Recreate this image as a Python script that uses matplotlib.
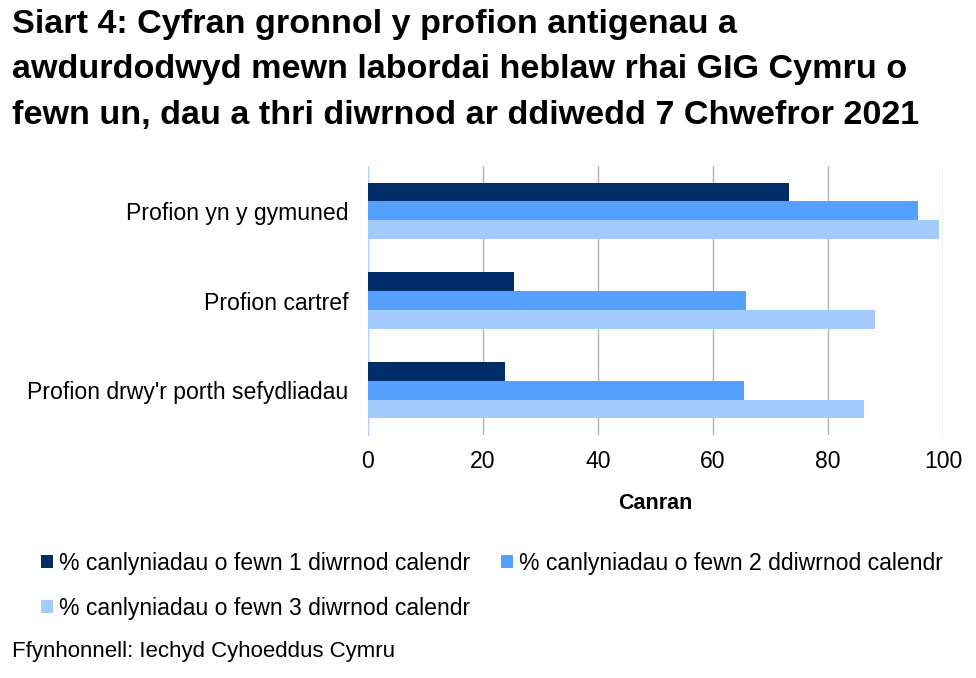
import matplotlib
matplotlib.use("Agg")
import matplotlib.pyplot as plt
import numpy as np

plt.rcParams['font.family'] = ['Liberation Sans', 'DejaVu Sans']

categories = ["Profion yn y gymuned", "Profion cartref", "Profion drwy'r porth sefydliadau"]
series_names = ["% canlyniadau o fewn 1 diwrnod calendr",
                "% canlyniadau o fewn 2 ddiwrnod calendr",
                "% canlyniadau o fewn 3 diwrnod calendr"]
day1 = [73.2, 25.4, 23.9]
day2 = [95.6, 65.8, 65.4]
day3 = [99.3, 88.2, 86.2]
xticks = [0, 20, 40, 60, 80, 100]
colors = ["#002D6A", "#559FFF", "#A4CBFD"]

title = ("Siart 4: Cyfran gronnol y profion antigenau a\n"
         "awdurdodwyd mewn labordai heblaw rhai GIG Cymru o\n"
         "fewn un, dau a thri diwrnod ar ddiwedd 7 Chwefror 2021")
source = "Ffynhonnell: Iechyd Cyhoeddus Cymru"

fig = plt.figure(figsize=(9.76, 6.78), dpi=100)
ax = fig.add_axes([368/976, 1-435/678, (943-368)/976, (435-166)/678])

n = len(categories)
y = np.arange(n)
h = 0.21
handles = []
for i, (vals, c) in enumerate(zip([day1, day2, day3], colors)):
    b = ax.barh(y + (i - 1) * h, vals, height=h, color=c, label=series_names[i], zorder=3)
    handles.append(b)

ax.set_ylim(n - 0.5, -0.5)
ax.set_xlim(0, 100)
ax.set_yticks(y)
ax.set_yticklabels(categories, fontsize=16.6)
ax.set_xticks(xticks)
ax.set_xticklabels([str(t) for t in xticks], fontsize=16.6)
ax.tick_params(axis='y', length=0, pad=14)
ax.tick_params(axis='x', length=0, pad=11)
ax.grid(axis='x', color='#b3b3b3', linewidth=1, zorder=0)
for s in ['top', 'right', 'bottom']:
    ax.spines[s].set_visible(False)
ax.spines['left'].set_color('#b3d1f5')
ax.set_xlabel("Canran", fontsize=15.5, fontweight='bold', labelpad=14)

fig.text(12/976, 1-9/678, title, fontsize=24.6, fontweight='bold', va='top', ha='left',
         linespacing=1.6)

order = [0, 2, 1]
fig.legend([handles[i] for i in order], [series_names[i] for i in order],
           loc='upper left', bbox_to_anchor=(20/976, 1-531/678), ncol=2, frameon=False,
           fontsize=16.6, handlelength=0.52, handleheight=0.52, handletextpad=0.26,
           columnspacing=1.35, labelspacing=0.95)

fig.text(12/976, 1-651/678, source, fontsize=16, va='center', ha='left')

fig.savefig("out.png", dpi=100)
